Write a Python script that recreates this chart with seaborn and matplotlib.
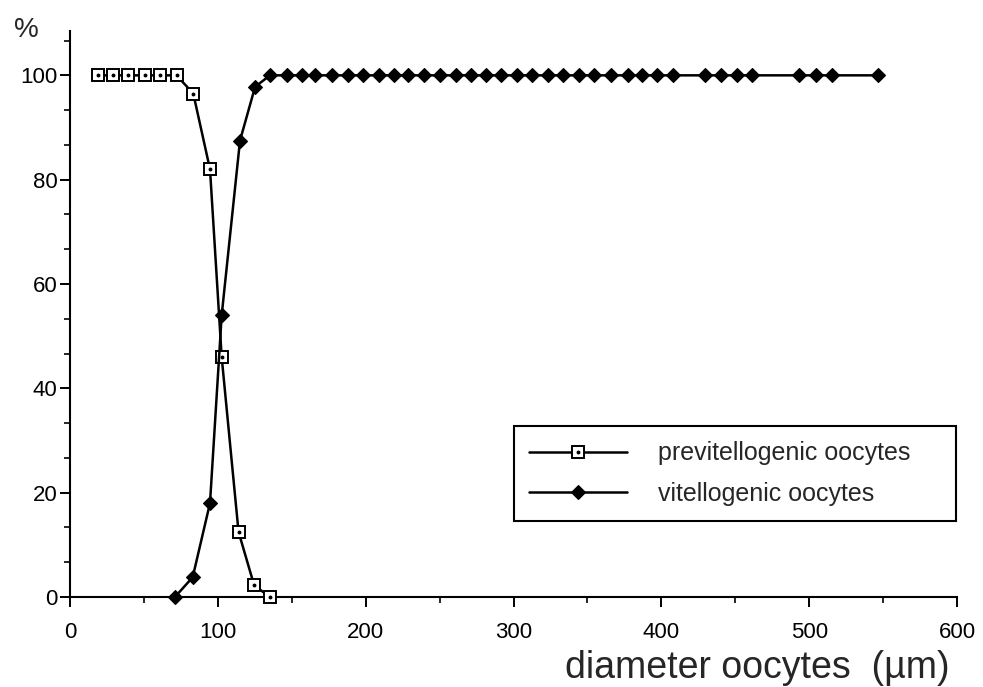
import numpy as np
import pandas as pd
import matplotlib
matplotlib.use("Agg")
import matplotlib.pyplot as plt
import seaborn as sns
from matplotlib.legend_handler import HandlerTuple
from matplotlib.ticker import MultipleLocator

# ---- data ----
x_pre = [19.1, 29.3, 39.4, 50.7, 60.9, 72.1, 83.4, 94.7, 102.6, 114.0, 124.5, 135.0]
y_pre = [100, 100, 100, 100, 100, 100, 96.5, 82.0, 46.0, 12.5, 2.3, 0.0]

x_vit = [71.0, 83.0, 94.7, 102.6, 115.0, 125.2, 135.3, 146.6, 156.8, 165.8,
         177.0, 187.9, 198.4, 209.0, 219.4, 228.9, 239.7, 250.3, 261.1, 271.2,
         281.2, 291.5, 302.3, 312.7, 323.5, 333.7, 344.5, 354.6, 366.0, 377.3,
         387.2, 397.4, 408.2, 429.2, 440.5, 451.0, 461.2, 493.4, 504.5, 515.4,
         546.5]
y_vit = [0.0, 3.8, 18.0, 54.0, 87.5, 97.8, 100, 100, 100, 100,
         100, 100, 100, 100, 100, 100, 100, 100, 100, 100,
         100, 100, 100, 100, 100, 100, 100, 100, 100, 100,
         100, 100, 100, 100, 100, 100, 100, 100, 100, 100,
         100]

label_pre = "previtellogenic oocytes"
label_vit = "vitellogenic oocytes"
x_ticks = [0, 100, 200, 300, 400, 500, 600]
y_ticks = [0, 20, 40, 60, 80, 100]
x_title = "diameter oocytes  (\u00b5m)"
y_title = "%"

df_pre = pd.DataFrame({"x": x_pre, "y": y_pre})
df_vit = pd.DataFrame({"x": x_vit, "y": y_vit})

sns.set_style("ticks")
plt.rcParams["font.family"] = ["Liberation Sans", "DejaVu Sans"]

fig = plt.figure(figsize=(9.83, 6.87), dpi=100)
W, H = 983, 687
ax = fig.add_axes([70 / W, 1 - 597 / H, 887 / W, 566 / H])

sns.lineplot(data=df_pre, x="x", y="y", ax=ax, color="black", lw=1.8,
             marker="s", markersize=8, markerfacecolor="white",
             markeredgecolor="black", markeredgewidth=1.4, clip_on=False,
             zorder=3, sort=False)
sns.lineplot(data=df_vit, x="x", y="y", ax=ax, color="black", lw=1.8,
             marker="D", markersize=7.2, markerfacecolor="black",
             markeredgecolor="black", markeredgewidth=0.8, clip_on=False,
             zorder=3, sort=False)
dots = ax.plot(df_pre["x"], df_pre["y"], ls="none", marker="o", ms=1.8,
               color="black", zorder=4, clip_on=False)[0]

line_pre = ax.lines[0]
line_vit = ax.lines[1]

ax.set_xlim(0, 600)
ax.set_ylim(0, 108.5)
ax.set_xticks(x_ticks)
ax.set_yticks(y_ticks)
ax.xaxis.set_minor_locator(MultipleLocator(50))
ax.yaxis.set_minor_locator(MultipleLocator(20 / 3))

for s in ["top", "right"]:
    ax.spines[s].set_visible(False)
for s in ["left", "bottom"]:
    ax.spines[s].set_linewidth(1.5)
    ax.spines[s].set_color("black")

ax.tick_params(axis="x", which="major", direction="out", length=7, width=1.4,
               pad=11, labelsize=16, colors="black")
ax.tick_params(axis="x", which="minor", direction="out", length=4, width=1.4)
ax.tick_params(axis="y", which="major", direction="out", length=7, width=1.4,
               pad=2, labelsize=16, colors="black")
ax.tick_params(axis="y", which="minor", direction="out", length=4, width=1.4)

ax.set_xlabel(x_title, fontsize=27, ha="right", va="top")
ax.xaxis.set_label_coords((950 - 70) / 887, (597 - 650) / 566)
ax.set_ylabel("")
fig.text(26 / W, 1 - 30 / H, y_title, fontsize=20, ha="center", va="center")

leg = ax.legend([(line_pre, dots), line_vit], [label_pre, label_vit],
                handler_map={tuple: HandlerTuple(ndivide=1)},
                loc="lower left",
                bbox_to_anchor=((514 - 70) / 887, (597 - 521) / 566,
                                (956 - 514) / 887, (521 - 427) / 566),
                mode="expand", borderaxespad=0, fontsize=18,
                handlelength=3.9, handletextpad=1.28, borderpad=0.6,
                labelspacing=0.67, fancybox=False, frameon=True,
                edgecolor="black", framealpha=1)
leg.get_frame().set_linewidth(1.5)

fig.savefig("out.png", dpi=100, facecolor="white")
